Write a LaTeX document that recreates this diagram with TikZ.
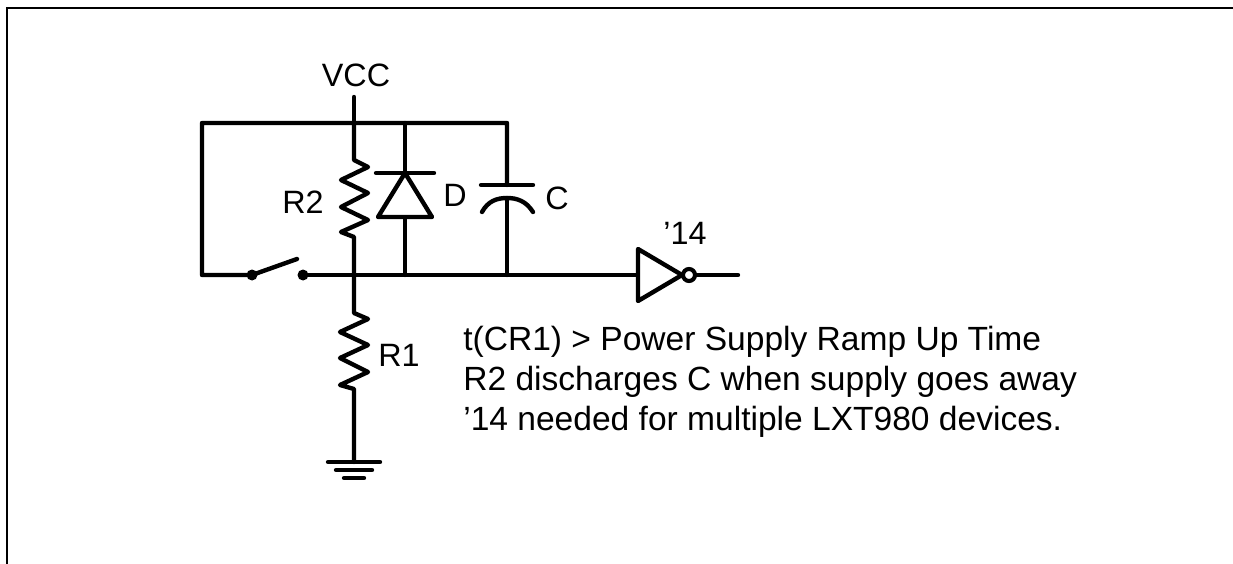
\documentclass[tikz,border=0pt]{standalone}
\usepackage{fontspec}
\setmainfont{Liberation Sans}
\tikzset{
    wire/.style={line width=2.5pt, line cap=round, line join=round},
    frameline/.style={line width=1.6pt},
    lbl/.style={inner sep=0pt, font=\fontsize{18.4pt}{20pt}\selectfont},
    note/.style={inner sep=0pt, anchor=base west, font=\fontsize{19.1pt}{20pt}\selectfont},
}

\begin{document}
\begin{tikzpicture}[x=0.02cm, y=-0.02cm]

    %% Background
    \useasboundingbox (0,0) rectangle (1233,564);

    % Frame
    \coordinate (framebl) at (7,564);
    \coordinate (frametl) at (7,8);
    \coordinate (frametr) at (1233,8);
    \draw[frameline] (framebl) to (frametl) to (frametr);

    % Junctions
    \coordinate (vcctop) at (354,97);
    \coordinate (topl) at (202,123);
    \coordinate (topr) at (507,123);
    \coordinate (topvcc) at (354,123);
    \coordinate (topd) at (405,123);
    \coordinate (botl) at (202,275);
    \coordinate (botr) at (354,275);
    \coordinate (botd) at (405,275);
    \coordinate (botc) at (507,275);
    \coordinate (swa) at (252,275);
    \coordinate (swb) at (303,275);
    \coordinate (swtip) at (297,259);
    \coordinate (capa) at (507,185);
    \coordinate (capb) at (507,198);
    \coordinate (invin) at (638,275);
    \coordinate (invout) at (682,275);
    \coordinate (invend) at (738,275);
    \coordinate (gnd) at (354,462);

    % Wires
    \draw[wire] (capa) to (topr) to (topl) to (botl) to (swa) to (swtip);
    \draw[wire] (capb) to (botc);
    \draw[wire] (swb) to (invin);
    \draw[wire] (vcctop) to (topvcc);
    \draw[wire] (topd) to (botd);

    % Resistors
    \draw[wire] (topvcc) to (354,160) to (368,167) to (341,180) to (368,193)
    to (341,207) to (368,220) to (341,232) to (354,237) to (botr);
    \draw[wire] (botr) to (354,313) to (368,319) to (340,332) to (368,345)
    to (340,358) to (368,372) to (340,385) to (354,389) to (gnd);

    % Diode
    \draw[wire, fill=white] (405,173) to (432,217) to (378,217) -- cycle;
    \draw[wire] (376,173) to (434,173);

    % Capacitor
    \draw[wire] (481,185) to (533,185);
    \draw[wire] (482,212) .. controls (488,201) and (497,198) .. (capb)
    .. controls (517,198) and (526,201) .. (533,212);

    % Switch dots
    \foreach \p in {swa,swb}
    {
    \fill (\p) circle (5.5);
    }

    % Inverter
    \draw[wire, fill=white] (invin) to (638,249) to (invout) to (638,301) -- cycle;
    \draw[wire] (695,275) to (invend);
    \draw[line width=2.3pt, fill=white] (689,275) circle (6);

    % Ground
    \draw[wire] (328,462) to (380,462);
    \draw[wire] (336,470) to (372,470);
    \draw[wire] (344,478) to (364,478);

    % Labels
    \node[lbl] (vcclabel) at (356,75) {VCC};
    \node[lbl] (r2label) at (303,202) {R2};
    \node[lbl] (dlabel) at (455,195) {D};
    \node[lbl] (clabel) at (557,198) {C};
    \node[lbl] (invlabel) at (685,233) {’14};
    \node[lbl] (r1label) at (399,355) {R1};

    % Notes
    \node[note] (notea) at (463,350) {t(CR1) > Power Supply Ramp Up Time};
    \node[note] (noteb) at (463,390) {R2 discharges C when supply goes away};
    \node[note] (notec) at (463,430) {’14 needed for multiple LXT980 devices.};

\end{tikzpicture}
\end{document}
